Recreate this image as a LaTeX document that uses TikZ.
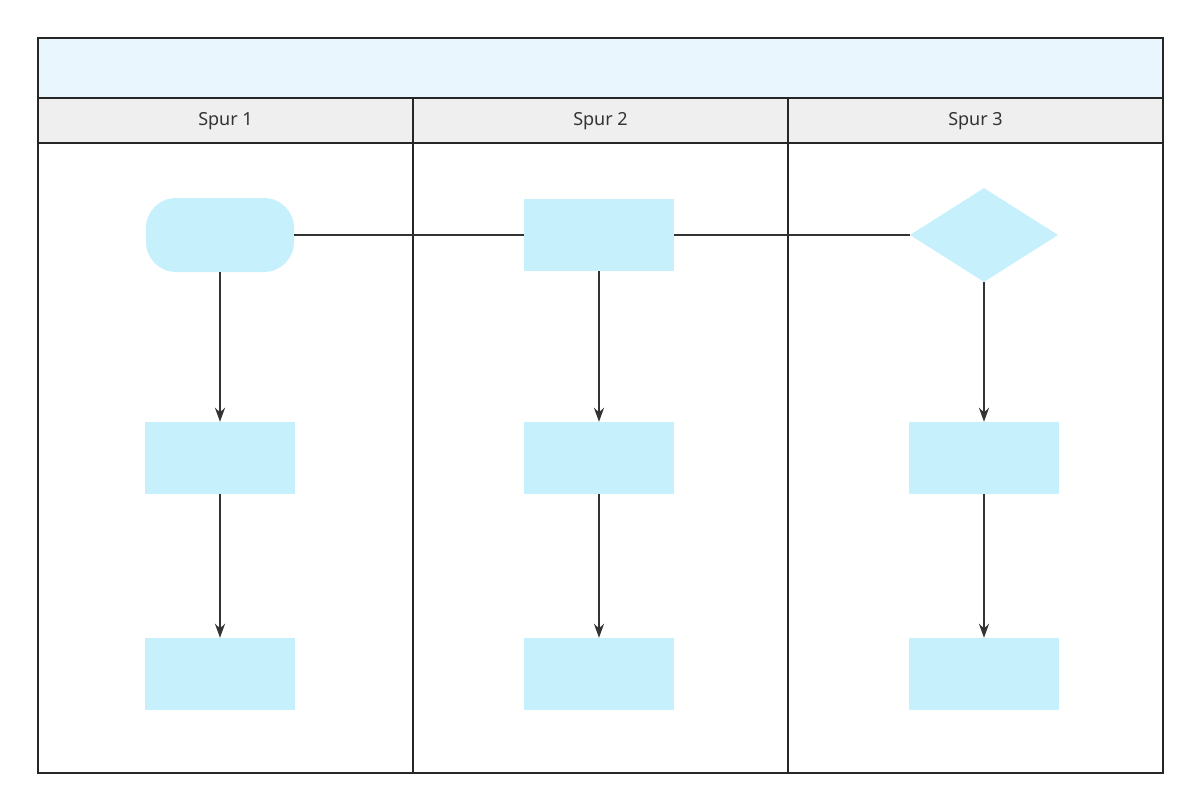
\documentclass[tikz,border=0pt]{standalone}
\usepackage{fontspec}
\setmainfont{Noto Sans}
\usetikzlibrary{shapes.geometric, arrows, positioning}
\definecolor{shapeblue}{HTML}{C7F0FD}
\definecolor{titleblue}{HTML}{EAF6FD}
\definecolor{headgray}{HTML}{EFEFEF}
\definecolor{linegray}{HTML}{333333}
\tikzstyle{box} = [rectangle, minimum width=150pt, minimum height=72pt, inner sep=0, fill=shapeblue]
\tikzstyle{start} = [rectangle, rounded corners=30pt, minimum width=148pt, minimum height=74pt, inner sep=0, fill=shapeblue]
\tikzstyle{decision} = [diamond, minimum width=148pt, minimum height=94pt, inner sep=0, aspect=1.57, fill=shapeblue]
\tikzstyle{link} = [line width=2pt,draw=linegray]
\tikzstyle{arrow} = [link,-{Stealth[length=14pt,width=10pt]}]
\tikzstyle{frame} = [draw=black!85, line width=2pt]
\tikzstyle{head} = [font=\fontsize{18}{20}\selectfont, text=linegray]
\usetikzlibrary{arrows.meta}
\begin{document}
\begin{tikzpicture}[x=1pt,y=-1pt]
\useasboundingbox (0,0) rectangle (1200,811);
\fill[white] (0,0) rectangle (1200,811);

% pool and lanes
\filldraw[frame,fill=titleblue] (38,38) rectangle (1163,98);
\filldraw[frame,fill=headgray] (38,98) rectangle (1163,143);
\draw[frame] (38,143) rectangle (1163,773);
\draw[frame] (413,98)--(413,773);
\draw[frame] (788,98)--(788,773);
\node[head] (h1) at (225.5,121) {Spur 1};
\node[head] (h2) at (600.5,121) {Spur 2};
\node[head] (h3) at (975.5,121) {Spur 3};

% shapes
\node[start] (s1) at (220,235) {};
\node[box] (b12) at (220,458) {};
\node[box] (b13) at (220,674) {};
\node[box] (b21) at (599,235) {};
\node[box] (b22) at (599,458) {};
\node[box] (b23) at (599,674) {};
\node[decision] (d31) at (984,235) {};
\node[box] (b32) at (984,458) {};
\node[box] (b33) at (984,674) {};

% connectors
\draw[link] (s1)--(b21)--(d31);
\draw[arrow] (s1)--(b12);
\draw[arrow] (b12)--(b13);
\draw[arrow] (b21)--(b22);
\draw[arrow] (b22)--(b23);
\draw[arrow] (d31)--(b32);
\draw[arrow] (b32)--(b33);
\end{tikzpicture}
\end{document}
